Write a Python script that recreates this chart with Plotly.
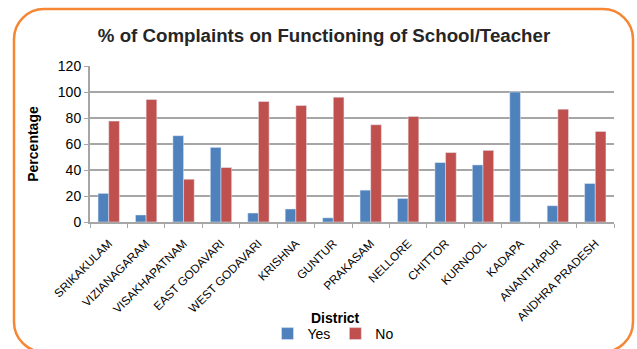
import plotly.graph_objects as go

districts = ["SRIKAKULAM", "VIZIANAGARAM", "VISAKHAPATNAM", "EAST GODAVARI",
             "WEST GODAVARI", "KRISHNA", "GUNTUR", "PRAKASAM", "NELLORE",
             "CHITTOR", "KURNOOL", "KADAPA", "ANANTHAPUR", "ANDHRA PRADESH"]
yes_pct = [22.0, 5.4, 66.4, 57.4, 6.9, 10.0, 3.2, 24.5, 18.1, 45.7, 43.9, 100.0, 12.5, 29.6]
no_pct = [77.6, 94.2, 32.9, 41.9, 92.7, 89.6, 96.0, 74.8, 81.2, 53.4, 55.1, 0.0, 86.8, 69.7]

W, H = 637, 349
L, R, T, B = 90, 23, 66, 127
PW, PH = W - L - R, H - T - B


def px(x):
    return (x - L) / PW


def py(y):
    return (H - B - y) / PH


def rounded_rect(x0, y0, x1, y1, r):
    k = 0.5523 * r
    pts = [
        f"M {px(x0 + r)},{py(y0)}",
        f"L {px(x1 - r)},{py(y0)}",
        f"C {px(x1 - r + k)},{py(y0)} {px(x1)},{py(y0 + r - k)} {px(x1)},{py(y0 + r)}",
        f"L {px(x1)},{py(y1 - r)}",
        f"C {px(x1)},{py(y1 - r + k)} {px(x1 - r + k)},{py(y1)} {px(x1 - r)},{py(y1)}",
        f"L {px(x0 + r)},{py(y1)}",
        f"C {px(x0 + r - k)},{py(y1)} {px(x0)},{py(y1 - r + k)} {px(x0)},{py(y1 - r)}",
        f"L {px(x0)},{py(y0 + r)}",
        f"C {px(x0)},{py(y0 + r - k)} {px(x0 + r - k)},{py(y0)} {px(x0 + r)},{py(y0)}",
        "Z",
    ]
    return " ".join(pts)


FONT = "Liberation Sans, Arial, sans-serif"
GRID = "#A6A6A6"

fig = go.Figure()
fig.add_trace(go.Bar(x=districts, y=yes_pct, name="Yes", marker_color="#4F81BD"))
fig.add_trace(go.Bar(x=districts, y=no_pct, name="No", marker_color="#C0504D"))

fig.update_layout(
    width=W, height=H,
    margin=dict(l=L, r=R, t=T, b=B, autoexpand=False),
    paper_bgcolor="white", plot_bgcolor="white",
    barmode="group", bargap=0.43, bargroupgap=0,
    font=dict(family=FONT, color="#000000"),
    title=dict(text="<b>% of Complaints on Functioning of School/Teacher</b>",
               x=324 / W, y=1 - 35 / H, xanchor="center", yanchor="middle",
               font=dict(size=18.7, color="#262626")),
    xaxis=dict(
        type="category", tickangle=-45, tickfont=dict(size=11.8),
        ticks="outside", tickson="boundaries", ticklen=4, tickcolor=GRID,
        ticklabelstandoff=8,
        showline=True, linecolor=GRID, linewidth=2, showgrid=False,
    ),
    yaxis=dict(
        range=[0, 120], dtick=20, tickfont=dict(size=14),
        ticks="outside", ticklen=4, tickcolor=GRID,
        showgrid=True, gridcolor=GRID, gridwidth=2,
        showline=True, linecolor=GRID, linewidth=2, zeroline=False,
        title=dict(text="<b>Percentage</b>", font=dict(size=14), standoff=16),
    ),
    legend=dict(orientation="h", x=px(333), xanchor="center", y=py(334),
                yanchor="middle", font=dict(size=14), itemwidth=30,
                traceorder="normal"),
    showlegend=True,
)

fig.add_annotation(text="<b>District</b>", xref="paper", yref="paper",
                   x=px(335), y=py(318), xanchor="center", yanchor="middle",
                   showarrow=False, font=dict(size=14, color="#000000"))

fig.add_shape(type="path", xref="paper", yref="paper",
              path=rounded_rect(14, 9, 633, 352, 30),
              line=dict(color="#F58634", width=2.5), layer="above")

fig.write_html("out.html")
